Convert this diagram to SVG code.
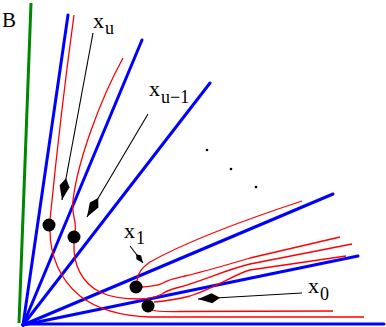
<svg xmlns="http://www.w3.org/2000/svg" width="386" height="327" viewBox="0 0 386 327">
<style>
.blue{stroke:#0000ff;stroke-width:3;fill:none;stroke-linecap:round}
.green{stroke:#008800;stroke-width:3;fill:none}
.red{stroke:#ff0000;stroke-width:1.3;fill:none}
.lead{stroke:#000;stroke-width:1.1;fill:none}
.t{font-family:"Liberation Serif","Times New Roman",serif;fill:#000}
</style>
<defs>
<marker id="kite" markerUnits="userSpaceOnUse" orient="auto" overflow="visible" markerWidth="1" markerHeight="1">
<path d="M0,0 L-14,-5 L-22,0 L-14,5 Z" fill="#000"/>
</marker>
<marker id="kiteS" markerUnits="userSpaceOnUse" orient="auto" overflow="visible" markerWidth="1" markerHeight="1">
<path d="M0,0 L-7,-3 L-11,0 L-7,3 Z" fill="#000"/>
</marker>
</defs>
<rect width="386" height="327" fill="#fff"/>
<g id="axes">
<line class="green" x1="19" y1="323" x2="31" y2="3"/>
<line class="blue" x1="23" y1="325" x2="68" y2="15"/>
<line class="blue" x1="23" y1="325" x2="142" y2="40"/>
<line class="blue" x1="23" y1="325" x2="210" y2="83"/>
<line class="blue" x1="23" y1="325" x2="333" y2="194"/>
<line class="blue" x1="23" y1="325" x2="358" y2="256"/>
<line class="blue" x1="23" y1="324" x2="384" y2="324"/>
</g>
<g id="connectors">
<path class="red" d="M74,15 Q60,118 50,220"/>
<path class="red" d="M50,231 C50,255 60,280 80,296 C98,310 120,316 150,317 L364,317"/>
<path class="red" d="M123,58 C100,100 78,160 73,200 C71,215 77,220 75,232"/>
<path class="red" d="M74,243 C73,265 82,283 100,292 C112,298 125,299 140,299 C150,299 156,297 162,294 C168,290 172,289 180,287 C205,280 225,270 250,264 L352,244"/>
<path class="red" d="M137,281 C138,272 142,268 150,262 C175,248 220,228 302,201"/>
<path class="red" d="M142,287 C152,286 158,286 163,283 C167,280 172,279 185,276 C210,270 230,264 250,258 L340,237"/>
<path class="red" d="M154,302 C165,301 175,300 190,296 C215,288 235,274 250,270 L346,256"/>
<path class="red" d="M152,310 C158,312 168,311.5 180,311.5 L333,311"/>
<line class="lead" x1="93" y1="33" x2="62" y2="200" marker-end="url(#kite)"/>
<line class="lead" x1="148" y1="114" x2="87" y2="217" marker-end="url(#kite)"/>
<line class="lead" x1="130" y1="246" x2="143" y2="263" marker-end="url(#kiteS)"/>
<line class="lead" x1="302" y1="293" x2="198" y2="299" marker-end="url(#kite)"/>
</g>
<g id="x_u"><circle cx="49" cy="225" r="6.5"/><text class="t" x="93" y="28" font-size="22">x</text><text class="t" x="105" y="34" font-size="18">u</text></g>
<g id="x_u-1"><circle cx="74" cy="237" r="6.5"/><text class="t" x="149" y="96" font-size="22">x</text><text class="t" x="161" y="103" font-size="18">u−1</text></g>
<g id="x_1"><circle cx="136" cy="287" r="6.5"/><text class="t" x="124" y="238" font-size="22">x</text><text class="t" x="136" y="244" font-size="18">1</text></g>
<g id="x_0"><circle cx="148" cy="306" r="6.5"/><text class="t" x="308" y="293" font-size="22">x</text><text class="t" x="320" y="300" font-size="18">0</text></g>
<g id="B"><text class="t" x="2" y="27" font-size="21">B</text></g>
<g id="dots"><circle cx="207" cy="150" r="1.3"/><circle cx="231" cy="169" r="1.3"/><circle cx="256" cy="187" r="1.3"/></g>
</svg>
